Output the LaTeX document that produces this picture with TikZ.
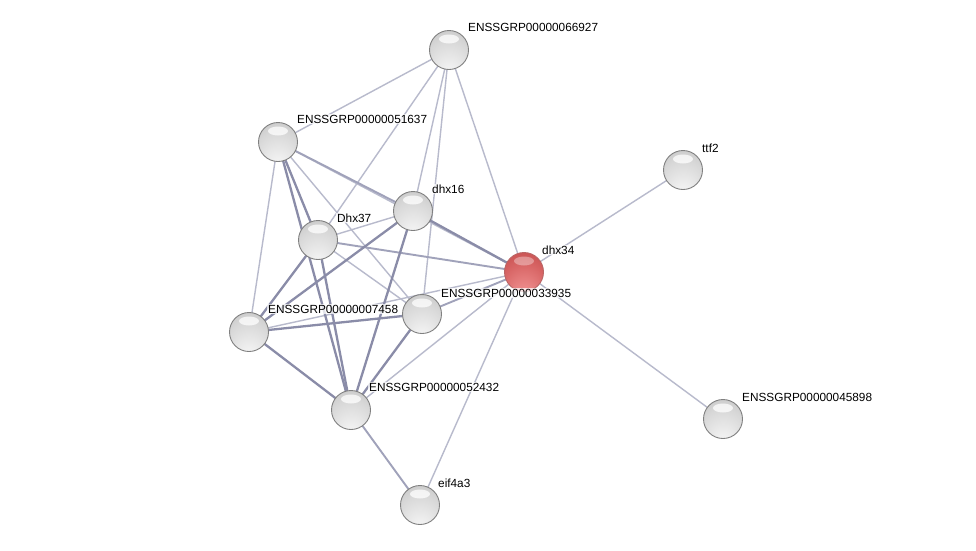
\documentclass[tikz,border=0pt]{standalone}
\usepackage{fontspec}
\setmainfont{Liberation Sans}
\usetikzlibrary{calc}
\pgfdeclareradialshading{graysphere}{\pgfpoint{0bp}{-38bp}}{%
  color(0bp)=(black!3); color(10bp)=(black!6); color(28bp)=(black!15);
  color(40bp)=(black!22); color(50bp)=(black!33)}
\pgfdeclareradialshading{redsphere}{\pgfpoint{0bp}{-38bp}}{%
  color(0bp)=(rgb,255:red,245;green,160;blue,160); color(10bp)=(rgb,255:red,236;green,138;blue,138);
  color(28bp)=(rgb,255:red,215;green,100;blue,100);
  color(40bp)=(rgb,255:red,198;green,78;blue,78); color(50bp)=(rgb,255:red,172;green,50;blue,50)}
\definecolor{edgethin}{RGB}{184,186,204}
\definecolor{edgemed}{RGB}{160,162,186}
\definecolor{edgethick}{RGB}{138,140,168}
\tikzset{
  sphere/.style={circle, minimum size=39pt, inner sep=0pt, shading=graysphere,
    draw=black!50, line width=0.9pt,
    path picture={\fill[white,opacity=0.75] ([yshift=11pt]path picture bounding box.center) ellipse (10pt and 4.5pt);}},
  redball/.style={sphere, shading=redsphere, draw=black!45!red!60,
    path picture={\fill[white,opacity=0.35] ([yshift=11pt]path picture bounding box.center) ellipse (10pt and 4.5pt);}},
  tedge/.style={draw=edgethin, line width=1.4pt},
  medge/.style={draw=edgemed, line width=1.9pt},
  kedge/.style={draw=edgethick, line width=2.3pt},
  lab/.style={anchor=west, font=\fontsize{11.8}{14}\selectfont, text=black,
    fill=white, fill opacity=0.75, text opacity=1, inner sep=1pt}
}
\begin{document}
\begin{tikzpicture}[x=1pt,y=-1pt]
\useasboundingbox (0,0) rectangle (976,550);
\fill[white] (0,0) rectangle (976,550);
% node coordinates
\coordinate (p66927) at (449,50);
\coordinate (p51637) at (278,142);
\coordinate (pttf2) at (683,170);
\coordinate (pdhx16) at (413,211);
\coordinate (pdhx37) at (318,240);
\coordinate (pdhx34) at (524,272);
\coordinate (p33935) at (422,314);
\coordinate (p7458) at (249,332);
\coordinate (p52432) at (351,410);
\coordinate (p45898) at (723,419);
\coordinate (peif) at (420,505);
% edges
\path[tedge] (p66927) -- (p51637);
\path[tedge] (p66927) -- (pdhx37);
\path[tedge] (p66927) -- (pdhx16);
\path[tedge] (p66927) -- (p33935);
\path[tedge] (p66927) -- (pdhx34);
\path[tedge] (p51637) -- (pdhx34);
\path[tedge] (p51637) -- (p7458);
\path[tedge] (p51637) -- (p33935);
\path[tedge] (pdhx37) -- (pdhx16);
\path[tedge] (pdhx37) -- (p33935);
\path[tedge] (p7458) -- (pdhx34);
\path[tedge] (p52432) -- (pdhx34);
\path[tedge] (peif) -- (pdhx34);
\path[tedge] (pdhx34) -- (pttf2);
\path[tedge] (pdhx34) -- (p45898);
\path[medge] (pdhx37) -- (pdhx34);
\path[medge] (p33935) -- (pdhx34);
\path[medge] (p52432) -- (peif);
\path[medge] (p51637) -- (pdhx16);
\path[kedge] (p51637) -- (pdhx37);
\path[kedge] (p51637) -- (p52432);
\path[kedge] (pdhx37) -- (p7458);
\path[kedge] (pdhx37) -- (p52432);
\path[kedge] (pdhx16) -- (pdhx34);
\path[kedge] (pdhx16) -- (p7458);
\path[kedge] (pdhx16) -- (p52432);
\path[kedge] (p7458) -- (p33935);
\path[kedge] (p7458) -- (p52432);
\path[kedge] (p33935) -- (p52432);
% nodes
\node[sphere] (n66927) at (p66927) {};
\node[sphere] (n51637) at (p51637) {};
\node[sphere] (nttf2) at (pttf2) {};
\node[sphere] (ndhx16) at (pdhx16) {};
\node[sphere] (ndhx37) at (pdhx37) {};
\node[redball] (ndhx34) at (pdhx34) {};
\node[sphere] (n33935) at (p33935) {};
\node[sphere] (n7458) at (p7458) {};
\node[sphere] (n52432) at (p52432) {};
\node[sphere] (n45898) at (p45898) {};
\node[sphere] (neif) at (peif) {};
% labels
\node[lab] (l66927) at ([shift={(18,-23)}]p66927) {ENSSGRP00000066927};
\node[lab] (l51637) at ([shift={(18,-23)}]p51637) {ENSSGRP00000051637};
\node[lab] (lttf2) at ([shift={(18,-22)}]pttf2) {ttf2};
\node[lab] (ldhx16) at ([shift={(18,-22)}]pdhx16) {dhx16};
\node[lab] (ldhx37) at ([shift={(18,-22)}]pdhx37) {Dhx37};
\node[lab] (ldhx34) at ([shift={(17,-22)}]pdhx34) {dhx34};
\node[lab] (l33935) at ([shift={(18,-21)}]p33935) {ENSSGRP00000033935};
\node[lab] (l7458) at ([shift={(18,-23)}]p7458) {ENSSGRP00000007458};
\node[lab] (l52432) at ([shift={(17,-23)}]p52432) {ENSSGRP00000052432};
\node[lab] (l45898) at ([shift={(18,-22)}]p45898) {ENSSGRP00000045898};
\node[lab] (leif) at ([shift={(17,-22)}]peif) {eif4a3};
\end{tikzpicture}
\end{document}
